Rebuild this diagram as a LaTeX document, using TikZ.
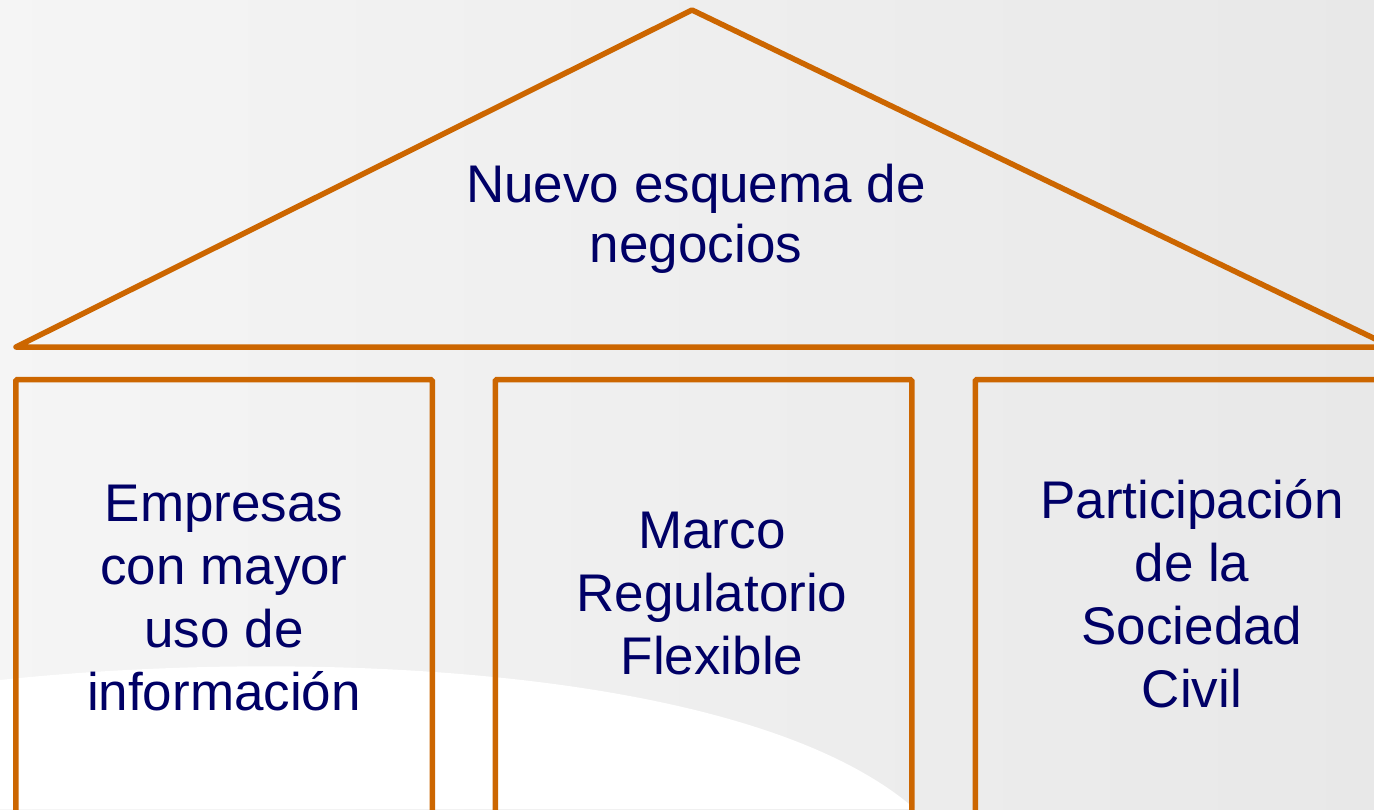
\documentclass[tikz,border=0pt]{standalone}
\usepackage{fontspec}
\setmainfont{Liberation Sans}
\definecolor{roofbrown}{HTML}{CC6600}
\definecolor{inknavy}{HTML}{000066}

\begin{document}
\begin{tikzpicture}[x=1pt,y=-1pt,
            roofline/.style={draw=roofbrown,line width=5.5pt,line join=round,line cap=round},
            pillar/.style={draw=roofbrown,line width=5.5pt,rounded corners=1.5pt,outer sep=0pt,
                minimum width=416.5pt,minimum height=480pt,anchor=north,inner sep=0pt},
            pillartext/.style={text=inknavy,align=center,
                font=\fontsize{53}{63}\selectfont}]
            \useasboundingbox (0,0) rectangle (1374,809);
            \clip (0,0) rectangle (1374,809);
            % background
            \shade[left color=black!4,right color=black!9] (0,0) rectangle (1374,809);
            \fill[white] (0,809) -- (0,680) .. controls (300,648) and (750,665) .. (915,809) -- cycle;

            \coordinate (apex) at (692,10);
            \coordinate (eaveL) at (16,347);
            \coordinate (eaveR) at (1392,347);
            \draw[roofline] (eaveL) -- (apex) -- (eaveR) -- cycle;
            \node[pillartext,font=\fontsize{53}{60}\selectfont] (roof) at (696,219) {Nuevo esquema de\\negocios};

            \node[pillar] (colA) at (224,379.5) {};
            \node[pillar] (colB) at (703.5,379.5) {};
            \node[pillar] (colC) at (1183.5,379.5) {};
            \node[pillartext] (textA) at (224,598) {Empresas\\con mayor\\uso de\\información};
            \node[pillartext] (textB) at (712,594) {Marco\\Regulatorio\\Flexible};
            \node[pillartext] (textC) at (1192,594) {Participación\\de la\\Sociedad\\Civil};

        \end{tikzpicture}
\end{document}
